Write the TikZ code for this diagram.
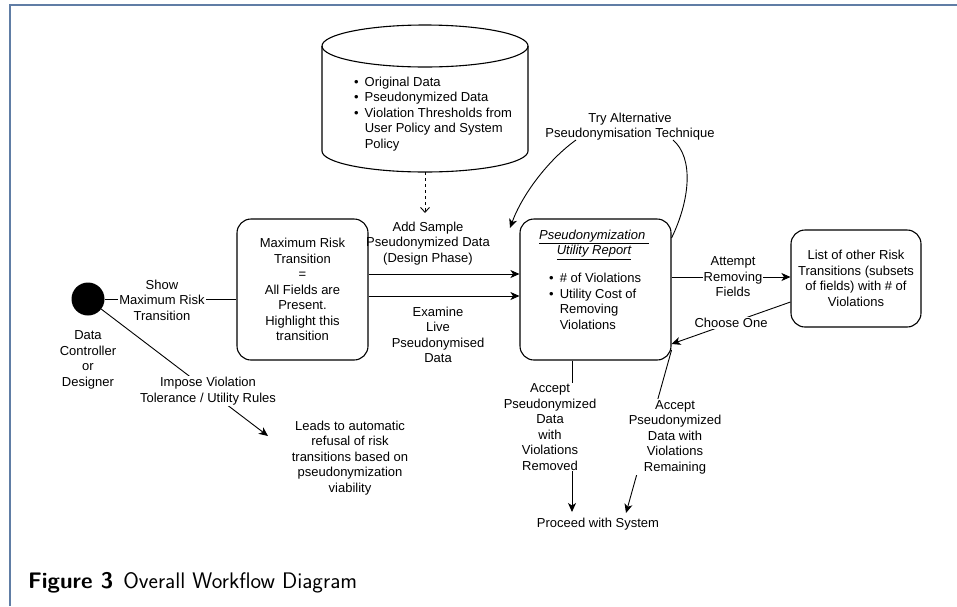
\documentclass[tikz,border=0pt]{standalone}
\usepackage{fontspec}
\newfontfamily\dia{Liberation Sans}
\usetikzlibrary{arrows.meta,calc}
\definecolor{framecol}{RGB}{96,125,165}
\tikzset{
  dtext/.style={font=\dia\fontsize{13}{15.5}\selectfont, align=center, inner sep=1pt},
  lbl/.style={dtext, fill=white},
  rbox/.style={draw, line width=1.1pt, rounded corners=14pt, dtext},
  conn/.style={line width=0.9pt},
  arr/.style={conn, -{Stealth[length=9pt,width=8pt,inset=2.5pt]}},
  openarr/.style={conn, dashed, -{Straight Barb[length=5pt,width=9pt]}},
}
\begin{document}
\begin{tikzpicture}[x=1pt,y=1pt]
\useasboundingbox (0,0) rectangle (957,-606);
% frame
\draw[framecol, line width=1.6pt] (10,-606) -- (10,-5) -- (957,-5);

% cylinder
\draw[line width=1.1pt] (322,-46) -- (322,-151) arc[start angle=180,end angle=360,x radius=103pt,y radius=21pt] -- (528,-46);
\draw[line width=1.1pt] (425,-46) ellipse [x radius=103pt, y radius=21pt];
\coordinate (cylb) at (425,-172);
\node[dtext, anchor=west, align=left] (cyltext) at (353,-114) {%
  \begin{tabular}{@{}l@{\hspace{6pt}}l@{}}
  \textbullet & Original Data\\
  \textbullet & Pseudonymized Data\\
  \textbullet & Violation Thresholds from\\
   & User Policy and System\\
   & Policy
  \end{tabular}};

% start circle
\node[circle, fill=black, minimum size=33pt, inner sep=0pt] (circ) at (88,-299) {};
\node[dtext] (actor) at (88,-360) {Data\\Controller\\or\\Designer};

% boxes
\node[rbox, minimum width=131pt, minimum height=141pt] (maxbox) at (302.5,-289.5)
  {Maximum Risk\\Transition\\=\\All Fields are\\Present.\\Highlight this\\transition};
\node[rbox, minimum width=151pt, minimum height=141pt] (rep) at (595.5,-289.5) {};
\node[dtext] (reptitle) at (594,-244.5) {\underline{\itshape Pseudonymization }\\\underline{\itshape Utility Report}};
\node[dtext, anchor=west, align=left] (repitems) at (548,-303) {%
  \begin{tabular}{@{}l@{\hspace{6pt}}l@{}}
  \textbullet & \# of Violations\\
  \textbullet & Utility Cost of\\
   & Removing\\
   & Violations
  \end{tabular}};
\node[rbox, minimum width=130pt, minimum height=97pt] (list) at (856,-278.5)
  {List of other Risk\\Transitions (subsets\\of fields) with \# of\\Violations};

% circle -> max box
\draw[conn] (circ.east) -- (circ.east -| maxbox.west);
\node[lbl] (showl) at (162,-300) {Show\\Maximum Risk\\Transition};

% impose
\coordinate (imposeEnd) at (268,-436);
\draw[arr] (circ) -- (imposeEnd);
\node[lbl] (imposel) at (208,-391) {Impose Violation\\Tolerance / Utility Rules};
\node[dtext] (leads) at (350,-458) {Leads to automatic\\refusal of risk\\transitions based on\\pseudonymization\\viability};

% cylinder -> down
\coordinate (cylEnd) at (425,-213);
\draw[openarr] (cylb) -- (cylEnd);
\node[dtext] (addl) at (428,-243.5) {Add Sample\\Pseudonymized Data\\(Design Phase)};

% max -> report
\draw[arr] (maxbox.east |- 0,-274) -- (rep.west |- 0,-274);
\draw[arr] (maxbox.east |- 0,-296) -- (rep.west |- 0,-296);
\node[dtext] (examl) at (438,-335) {Examine\\Live\\Pseudonymised\\Data};

% try alternative loop
\node[dtext] (tryl) at (630,-126.5) {Try Alternative\\Pseudonymisation Technique};
\coordinate (tryA) at (673,-140);
\coordinate (tryB) at (576,-140);
\coordinate (tryEnd) at (510,-228);
\draw[conn] (rep.east |- 0,-238) .. controls (690,-200) and (694,-158) .. (tryA);
\draw[arr] (tryB) .. controls (548,-160) and (522,-195) .. (tryEnd);

% report <-> list
\draw[arr] (rep.east |- 0,-277) -- (list.west |- 0,-277);
\node[lbl] (attl) at (733,-277) {Attempt\\Removing\\Fields};
\draw[arr] (list.west |- 0,-302) -- (rep.east |- 0,-344);
\node[lbl] (choosel) at (731,-323) {Choose One};

% accept paths
\node[dtext] (proceed) at (598,-524) {Proceed with System};
\coordinate (accAEnd) at (572,-512);
\coordinate (accBEnd) at (626,-513);
\draw[arr] (rep.south -| 572,0) -- (accAEnd);
\node[lbl] (accAl) at (550,-427) {Accept\\Pseudonymized\\Data\\with\\Violations\\Removed};
\draw[arr] (rep.east |- 0,-350) -- (accBEnd);
\node[lbl] (accBl) at (675,-437) {Accept\\Pseudonymized\\Data with\\Violations\\Remaining};

% caption
\node[anchor=base west, inner sep=0pt, font=\sffamily\fontsize{22.5}{27}\selectfont] (caption) at (28,-588)
  {\textbf{Figure 3}\hspace{0.45em}Overall Workflow Diagram};
\end{tikzpicture}
\end{document}
